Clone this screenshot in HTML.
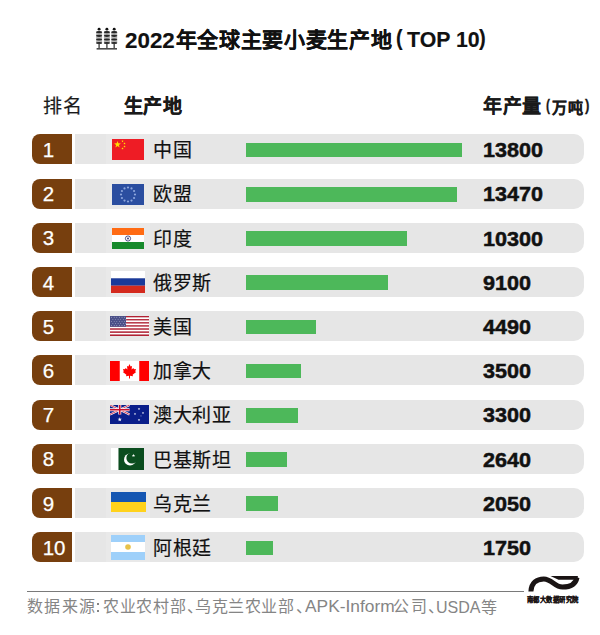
<!DOCTYPE html>
<html lang="zh-CN"><head><meta charset="utf-8">
<style>
html,body{margin:0;padding:0;background:#ffffff;}
body{width:600px;height:635px;position:relative;overflow:hidden;font-family:"Liberation Sans",sans-serif;color:#111;}
.abs{position:absolute;}
.t{position:absolute;line-height:1;white-space:nowrap;transform-origin:0 0;}
.row{position:absolute;left:32px;width:550px;height:30px;}
.rk{position:absolute;left:0;top:0;width:40px;height:30px;background:#773f0e;border-radius:8px 0 0 8px;}
.gb{position:absolute;left:42.5px;top:0;width:509px;height:30px;background:#e6e6e6;border-radius:0 10px 10px 0;}
.fl{position:absolute;}
.bar{position:absolute;left:214px;top:8.5px;height:14.5px;background:#4db85a;}
.line{position:absolute;left:26.5px;top:590.5px;width:497px;height:1.5px;background:#7a7a7a;}
</style></head><body>

<svg class="abs" style="left:95px;top:27px" width="24" height="24" viewBox="0 0 24 24"><rect x="1.10" y="4.4" width="6.0" height="12.4" rx="1.2" fill="#b4b4b4"/><circle cx="4.1" cy="2.15" r="1.45" fill="#111"/><ellipse cx="4.1" cy="5.2" rx="3.1" ry="1.1" fill="#262626"/><ellipse cx="4.1" cy="8.85" rx="3.1" ry="1.1" fill="#262626"/><ellipse cx="4.1" cy="12.5" rx="3.1" ry="1.1" fill="#262626"/><ellipse cx="4.1" cy="16.0" rx="3.1" ry="1.1" fill="#262626"/><rect x="3.35" y="16.8" width="1.5" height="4.4" fill="#555"/><rect x="8.90" y="4.4" width="6.0" height="12.4" rx="1.2" fill="#b4b4b4"/><circle cx="11.9" cy="2.15" r="1.45" fill="#111"/><ellipse cx="11.9" cy="5.2" rx="3.1" ry="1.1" fill="#262626"/><ellipse cx="11.9" cy="8.85" rx="3.1" ry="1.1" fill="#262626"/><ellipse cx="11.9" cy="12.5" rx="3.1" ry="1.1" fill="#262626"/><ellipse cx="11.9" cy="16.0" rx="3.1" ry="1.1" fill="#262626"/><rect x="11.15" y="16.8" width="1.5" height="4.4" fill="#555"/><rect x="16.20" y="4.4" width="6.0" height="12.4" rx="1.2" fill="#b4b4b4"/><circle cx="19.2" cy="2.15" r="1.45" fill="#111"/><ellipse cx="19.2" cy="5.2" rx="3.1" ry="1.1" fill="#262626"/><ellipse cx="19.2" cy="8.85" rx="3.1" ry="1.1" fill="#262626"/><ellipse cx="19.2" cy="12.5" rx="3.1" ry="1.1" fill="#262626"/><ellipse cx="19.2" cy="16.0" rx="3.1" ry="1.1" fill="#262626"/><rect x="18.45" y="16.8" width="1.5" height="4.4" fill="#555"/><rect x="1.6" y="21.0" width="20.4" height="1.6" fill="#4a4a4a"/></svg>
<div class="t" style="left:124.74px;top:29.90px;font-size:22.00px;font-weight:700;transform:scaleX(1.0174);-webkit-text-stroke:0.15px #111111;color:#111111;">2022</div>
<div class="t" style="left:175.80px;top:29.27px;font-size:21.00px;font-weight:700;letter-spacing:0.67px;-webkit-text-stroke:0.15px #111111;color:#111111;">年全球主要小麦生产地</div>
<div class="t" style="left:396.31px;top:27.15px;font-size:22.00px;font-weight:700;transform:scaleX(0.8954);-webkit-text-stroke:0.15px #111111;color:#111111;">(</div>
<div class="t" style="left:406.72px;top:28.90px;font-size:22.00px;font-weight:700;transform:scaleX(0.9688);-webkit-text-stroke:0.15px #111111;color:#111111;">TOP 10</div>
<div class="t" style="left:479.36px;top:27.15px;font-size:22.00px;font-weight:700;transform:scaleX(0.9211);-webkit-text-stroke:0.15px #111111;color:#111111;">)</div>
<div class="t" style="left:43.38px;top:96.82px;font-size:19.00px;letter-spacing:0.52px;-webkit-text-stroke:0.2px #1a1a1a;color:#1a1a1a;">排名</div>
<div class="t" style="left:124.06px;top:96.96px;font-size:19.00px;font-weight:700;letter-spacing:0.41px;-webkit-text-stroke:0.35px #1a1a1a;color:#1a1a1a;">生产地</div>
<div class="t" style="left:483.36px;top:97.09px;font-size:19.00px;font-weight:700;letter-spacing:0.42px;-webkit-text-stroke:0.1px #1a1a1a;color:#1a1a1a;">年产量</div>
<div class="t" style="left:546.22px;top:98.40px;font-size:16.00px;font-weight:700;transform:scaleX(0.7504);-webkit-text-stroke:0.3px #1a1a1a;color:#1a1a1a;">(</div>
<div class="t" style="left:551.94px;top:99.55px;font-size:15.00px;font-weight:700;letter-spacing:1.28px;-webkit-text-stroke:0.2px #1a1a1a;color:#1a1a1a;">万吨</div>
<div class="t" style="left:584.54px;top:98.40px;font-size:16.00px;font-weight:700;transform:scaleX(0.8307);-webkit-text-stroke:0.3px #1a1a1a;color:#1a1a1a;">)</div>
<div class="row" style="top:134.30px"><div class="rk"></div><div class="gb"></div><div class="abs" style="left:74px;top:0;width:44px;height:30px;background:#e9e9e9"></div><svg class="fl" style="left:80px;top:5px" width="32" height="21" viewBox="0 0 32 21"><rect width="32" height="21" fill="#ee1c25"/><polygon points="5.50,1.90 6.35,4.34 8.92,4.39 6.87,5.94 7.62,8.41 5.50,6.94 3.38,8.41 4.13,5.94 2.08,4.39 4.65,4.34" fill="#ffde00"/><polygon points="10.50,1.00 10.78,1.81 11.64,1.83 10.96,2.35 11.21,3.17 10.50,2.68 9.79,3.17 10.04,2.35 9.36,1.83 10.22,1.81" fill="#ffde00"/><polygon points="12.50,3.30 12.78,4.11 13.64,4.13 12.96,4.65 13.21,5.47 12.50,4.98 11.79,5.47 12.04,4.65 11.36,4.13 12.22,4.11" fill="#ffde00"/><polygon points="12.50,6.30 12.78,7.11 13.64,7.13 12.96,7.65 13.21,8.47 12.50,7.98 11.79,8.47 12.04,7.65 11.36,7.13 12.22,7.11" fill="#ffde00"/><polygon points="10.50,8.30 10.78,9.11 11.64,9.13 10.96,9.65 11.21,10.47 10.50,9.98 9.79,10.47 10.04,9.65 9.36,9.13 10.22,9.11" fill="#ffde00"/></svg><div class="bar" style="width:216.0px"></div></div>
<div class="t" style="left:42.72px;top:139.92px;font-size:20.50px;-webkit-text-stroke:0.25px #ffffff;color:#ffffff;">1</div>
<div class="t" style="left:152.90px;top:141.13px;font-size:19.00px;letter-spacing:0.65px;-webkit-text-stroke:0.2px #111111;color:#111111;">中国</div>
<div class="t" style="left:482.80px;top:140.10px;font-size:20.50px;font-weight:700;transform:scaleX(1.0526);-webkit-text-stroke:0.5px #111111;color:#111111;">13800</div>
<div class="row" style="top:178.50px"><div class="rk"></div><div class="gb"></div><div class="abs" style="left:74px;top:0;width:44px;height:30px;background:#e9e9e9"></div><svg class="fl" style="left:80px;top:5px" width="32" height="21" viewBox="0 0 32 21"><rect width="32" height="21" fill="#2b4ea0"/><circle cx="23.00" cy="10.50" r="1.1" fill="#8da6dc"/><circle cx="22.06" cy="14.00" r="1.1" fill="#8da6dc"/><circle cx="19.50" cy="16.56" r="1.1" fill="#8da6dc"/><circle cx="16.00" cy="17.50" r="1.1" fill="#8da6dc"/><circle cx="12.50" cy="16.56" r="1.1" fill="#8da6dc"/><circle cx="9.94" cy="14.00" r="1.1" fill="#8da6dc"/><circle cx="9.00" cy="10.50" r="1.1" fill="#8da6dc"/><circle cx="9.94" cy="7.00" r="1.1" fill="#8da6dc"/><circle cx="12.50" cy="4.44" r="1.1" fill="#8da6dc"/><circle cx="16.00" cy="3.50" r="1.1" fill="#8da6dc"/><circle cx="19.50" cy="4.44" r="1.1" fill="#8da6dc"/><circle cx="22.06" cy="7.00" r="1.1" fill="#8da6dc"/></svg><div class="bar" style="width:210.8px"></div></div>
<div class="t" style="left:42.72px;top:184.12px;font-size:20.50px;-webkit-text-stroke:0.25px #ffffff;color:#ffffff;">2</div>
<div class="t" style="left:152.90px;top:185.33px;font-size:19.00px;letter-spacing:0.65px;-webkit-text-stroke:0.2px #111111;color:#111111;">欧盟</div>
<div class="t" style="left:482.80px;top:184.30px;font-size:20.50px;font-weight:700;transform:scaleX(1.0526);-webkit-text-stroke:0.5px #111111;color:#111111;">13470</div>
<div class="row" style="top:222.70px"><div class="rk"></div><div class="gb"></div><div class="abs" style="left:74px;top:0;width:44px;height:30px;background:#e9e9e9"></div><svg class="fl" style="left:80px;top:5px" width="32" height="21" viewBox="0 0 32 21"><rect width="32" height="7" fill="#ff6b14"/><rect y="7" width="32" height="7" fill="#ffffff"/><rect y="14" width="32" height="7" fill="#178a2c"/><circle cx="16" cy="10.5" r="2.6" fill="none" stroke="#2a2a6a" stroke-width="0.8"/><circle cx="16" cy="10.5" r="0.9" fill="#2a2a6a"/></svg><div class="bar" style="width:161.2px"></div></div>
<div class="t" style="left:42.72px;top:228.32px;font-size:20.50px;-webkit-text-stroke:0.25px #ffffff;color:#ffffff;">3</div>
<div class="t" style="left:152.90px;top:229.53px;font-size:19.00px;letter-spacing:0.65px;-webkit-text-stroke:0.2px #111111;color:#111111;">印度</div>
<div class="t" style="left:482.80px;top:228.50px;font-size:20.50px;font-weight:700;transform:scaleX(1.0526);-webkit-text-stroke:0.5px #111111;color:#111111;">10300</div>
<div class="row" style="top:266.90px"><div class="rk"></div><div class="gb"></div><div class="abs" style="left:74px;top:0;width:44px;height:30px;background:#e9e9e9"></div><svg class="fl" style="left:78.5px;top:4.3px" width="34" height="22" viewBox="0 0 34 22"><rect width="34" height="7.3" fill="#ffffff"/><rect y="7.3" width="34" height="7.4" fill="#1a3a9a"/><rect y="14.7" width="34" height="7.3" fill="#d42a1e"/></svg><div class="bar" style="width:142.4px"></div></div>
<div class="t" style="left:42.72px;top:272.52px;font-size:20.50px;-webkit-text-stroke:0.25px #ffffff;color:#ffffff;">4</div>
<div class="t" style="left:152.90px;top:273.73px;font-size:19.00px;letter-spacing:0.65px;-webkit-text-stroke:0.2px #111111;color:#111111;">俄罗斯</div>
<div class="t" style="left:482.80px;top:272.70px;font-size:20.50px;font-weight:700;transform:scaleX(1.0526);-webkit-text-stroke:0.5px #111111;color:#111111;">9100</div>
<div class="row" style="top:311.10px"><div class="rk"></div><div class="gb"></div><div class="abs" style="left:74px;top:0;width:44px;height:30px;background:#e9e9e9"></div><svg class="fl" style="left:78px;top:5px" width="39" height="20" viewBox="0 0 39 20"><rect y="0.000" width="39" height="1.558" fill="#b22234"/><rect y="1.538" width="39" height="1.558" fill="#ffffff"/><rect y="3.077" width="39" height="1.558" fill="#b22234"/><rect y="4.615" width="39" height="1.558" fill="#ffffff"/><rect y="6.154" width="39" height="1.558" fill="#b22234"/><rect y="7.692" width="39" height="1.558" fill="#ffffff"/><rect y="9.231" width="39" height="1.558" fill="#b22234"/><rect y="10.769" width="39" height="1.558" fill="#ffffff"/><rect y="12.308" width="39" height="1.558" fill="#b22234"/><rect y="13.846" width="39" height="1.558" fill="#ffffff"/><rect y="15.385" width="39" height="1.558" fill="#b22234"/><rect y="16.923" width="39" height="1.558" fill="#ffffff"/><rect y="18.462" width="39" height="1.558" fill="#b22234"/><rect width="16" height="10.77" fill="#4b5088"/><circle cx="1.60" cy="1.30" r="0.45" fill="#c8cbe0"/><circle cx="4.20" cy="1.30" r="0.45" fill="#c8cbe0"/><circle cx="6.80" cy="1.30" r="0.45" fill="#c8cbe0"/><circle cx="9.40" cy="1.30" r="0.45" fill="#c8cbe0"/><circle cx="12.00" cy="1.30" r="0.45" fill="#c8cbe0"/><circle cx="14.60" cy="1.30" r="0.45" fill="#c8cbe0"/><circle cx="2.90" cy="3.35" r="0.45" fill="#c8cbe0"/><circle cx="5.50" cy="3.35" r="0.45" fill="#c8cbe0"/><circle cx="8.10" cy="3.35" r="0.45" fill="#c8cbe0"/><circle cx="10.70" cy="3.35" r="0.45" fill="#c8cbe0"/><circle cx="13.30" cy="3.35" r="0.45" fill="#c8cbe0"/><circle cx="15.90" cy="3.35" r="0.45" fill="#c8cbe0"/><circle cx="1.60" cy="5.40" r="0.45" fill="#c8cbe0"/><circle cx="4.20" cy="5.40" r="0.45" fill="#c8cbe0"/><circle cx="6.80" cy="5.40" r="0.45" fill="#c8cbe0"/><circle cx="9.40" cy="5.40" r="0.45" fill="#c8cbe0"/><circle cx="12.00" cy="5.40" r="0.45" fill="#c8cbe0"/><circle cx="14.60" cy="5.40" r="0.45" fill="#c8cbe0"/><circle cx="2.90" cy="7.45" r="0.45" fill="#c8cbe0"/><circle cx="5.50" cy="7.45" r="0.45" fill="#c8cbe0"/><circle cx="8.10" cy="7.45" r="0.45" fill="#c8cbe0"/><circle cx="10.70" cy="7.45" r="0.45" fill="#c8cbe0"/><circle cx="13.30" cy="7.45" r="0.45" fill="#c8cbe0"/><circle cx="15.90" cy="7.45" r="0.45" fill="#c8cbe0"/><circle cx="1.60" cy="9.50" r="0.45" fill="#c8cbe0"/><circle cx="4.20" cy="9.50" r="0.45" fill="#c8cbe0"/><circle cx="6.80" cy="9.50" r="0.45" fill="#c8cbe0"/><circle cx="9.40" cy="9.50" r="0.45" fill="#c8cbe0"/><circle cx="12.00" cy="9.50" r="0.45" fill="#c8cbe0"/><circle cx="14.60" cy="9.50" r="0.45" fill="#c8cbe0"/></svg><div class="bar" style="width:70.3px"></div></div>
<div class="t" style="left:42.72px;top:316.72px;font-size:20.50px;-webkit-text-stroke:0.25px #ffffff;color:#ffffff;">5</div>
<div class="t" style="left:152.90px;top:317.93px;font-size:19.00px;letter-spacing:0.65px;-webkit-text-stroke:0.2px #111111;color:#111111;">美国</div>
<div class="t" style="left:482.80px;top:316.90px;font-size:20.50px;font-weight:700;transform:scaleX(1.0526);-webkit-text-stroke:0.5px #111111;color:#111111;">4490</div>
<div class="row" style="top:355.30px"><div class="rk"></div><div class="gb"></div><div class="abs" style="left:74px;top:0;width:44px;height:30px;background:#e9e9e9"></div><svg class="fl" style="left:78px;top:5.4px" width="39" height="20" viewBox="0 0 39 20"><rect width="39" height="20" fill="#ffffff"/><rect width="9.75" height="20" fill="#ff0000"/><rect x="29.25" width="9.75" height="20" fill="#ff0000"/><path d="M19.5 3 L20.6 5.6 L22 5 L21.6 8.6 L23.4 7 L24 8.3 L26 8 L25.2 10.5 L26.2 11 L22.6 13.8 L23 15.2 L20 14.8 L20 17.5 L19 17.5 L19 14.8 L16 15.2 L16.4 13.8 L12.8 11 L13.8 10.5 L13 8 L15 8.3 L15.6 7 L17.4 8.6 L17 5 L18.4 5.6 Z" fill="#ff0000"/></svg><div class="bar" style="width:54.8px"></div></div>
<div class="t" style="left:42.72px;top:360.92px;font-size:20.50px;-webkit-text-stroke:0.25px #ffffff;color:#ffffff;">6</div>
<div class="t" style="left:152.90px;top:362.13px;font-size:19.00px;letter-spacing:0.65px;-webkit-text-stroke:0.2px #111111;color:#111111;">加拿大</div>
<div class="t" style="left:482.80px;top:361.10px;font-size:20.50px;font-weight:700;transform:scaleX(1.0526);-webkit-text-stroke:0.5px #111111;color:#111111;">3500</div>
<div class="row" style="top:399.50px"><div class="rk"></div><div class="gb"></div><div class="abs" style="left:74px;top:0;width:44px;height:30px;background:#e9e9e9"></div><svg class="fl" style="left:78px;top:5.3px" width="39" height="19" viewBox="0 0 39 19"><rect width="39" height="19" fill="#0a1e8a"/><g><path d="M0 0 L19.5 9.5 M19.5 0 L0 9.5" stroke="#ffffff" stroke-width="2"/><path d="M0 0 L19.5 9.5 M19.5 0 L0 9.5" stroke="#c8102e" stroke-width="0.8"/><path d="M9.75 0 V9.5 M0 4.75 H19.5" stroke="#ffffff" stroke-width="3"/><path d="M9.75 0 V9.5 M0 4.75 H19.5" stroke="#c8102e" stroke-width="1.6"/></g><polygon points="9.75,12.30 10.27,13.79 11.84,13.82 10.59,14.77 11.04,16.28 9.75,15.38 8.46,16.28 8.91,14.77 7.66,13.82 9.23,13.79" fill="#ffffff"/><polygon points="29.00,2.70 29.31,3.58 30.24,3.60 29.49,4.16 29.76,5.05 29.00,4.52 28.24,5.05 28.51,4.16 27.76,3.60 28.69,3.58" fill="#ffffff"/><polygon points="25.00,7.80 25.28,8.61 26.14,8.63 25.46,9.15 25.71,9.97 25.00,9.48 24.29,9.97 24.54,9.15 23.86,8.63 24.72,8.61" fill="#ffffff"/><polygon points="33.00,6.80 33.28,7.61 34.14,7.63 33.46,8.15 33.71,8.97 33.00,8.48 32.29,8.97 32.54,8.15 31.86,7.63 32.72,7.61" fill="#ffffff"/><polygon points="29.00,13.70 29.31,14.58 30.24,14.60 29.49,15.16 29.76,16.05 29.00,15.52 28.24,16.05 28.51,15.16 27.76,14.60 28.69,14.58" fill="#ffffff"/><polygon points="31.00,10.30 31.16,10.77 31.67,10.78 31.27,11.09 31.41,11.57 31.00,11.28 30.59,11.57 30.73,11.09 30.33,10.78 30.84,10.77" fill="#ffffff"/></svg><div class="bar" style="width:51.7px"></div></div>
<div class="t" style="left:42.72px;top:405.12px;font-size:20.50px;-webkit-text-stroke:0.25px #ffffff;color:#ffffff;">7</div>
<div class="t" style="left:152.90px;top:406.33px;font-size:19.00px;letter-spacing:0.65px;-webkit-text-stroke:0.2px #111111;color:#111111;">澳大利亚</div>
<div class="t" style="left:482.80px;top:405.30px;font-size:20.50px;font-weight:700;transform:scaleX(1.0526);-webkit-text-stroke:0.5px #111111;color:#111111;">3300</div>
<div class="row" style="top:443.70px"><div class="rk"></div><div class="gb"></div><div class="abs" style="left:74px;top:0;width:44px;height:30px;background:#e9e9e9"></div><svg class="fl" style="left:79px;top:4.3px" width="33" height="22" viewBox="0 0 33 22"><rect width="7.5" height="22" fill="#ffffff"/><rect x="7.5" width="25.5" height="22" fill="#0b4d1f"/><circle cx="19" cy="11.5" r="6" fill="#ffffff"/><circle cx="21" cy="10" r="5.6" fill="#0b4d1f"/><polygon points="22.50,5.80 22.92,7.02 24.21,7.04 23.18,7.82 23.56,9.06 22.50,8.32 21.44,9.06 21.82,7.82 20.79,7.04 22.08,7.02" fill="#ffffff"/></svg><div class="bar" style="width:41.3px"></div></div>
<div class="t" style="left:42.72px;top:449.32px;font-size:20.50px;-webkit-text-stroke:0.25px #ffffff;color:#ffffff;">8</div>
<div class="t" style="left:152.90px;top:450.53px;font-size:19.00px;letter-spacing:0.65px;-webkit-text-stroke:0.2px #111111;color:#111111;">巴基斯坦</div>
<div class="t" style="left:482.80px;top:449.50px;font-size:20.50px;font-weight:700;transform:scaleX(1.0526);-webkit-text-stroke:0.5px #111111;color:#111111;">2640</div>
<div class="row" style="top:487.90px"><div class="rk"></div><div class="gb"></div><div class="abs" style="left:74px;top:0;width:44px;height:30px;background:#e9e9e9"></div><svg class="fl" style="left:78.5px;top:4px" width="35.5" height="20" viewBox="0 0 35.5 20"><rect width="35.5" height="10" fill="#1556b2"/><rect y="10" width="35.5" height="10" fill="#ffd21c"/></svg><div class="bar" style="width:32.1px"></div></div>
<div class="t" style="left:42.72px;top:493.52px;font-size:20.50px;-webkit-text-stroke:0.25px #ffffff;color:#ffffff;">9</div>
<div class="t" style="left:152.90px;top:494.73px;font-size:19.00px;letter-spacing:0.65px;-webkit-text-stroke:0.2px #111111;color:#111111;">乌克兰</div>
<div class="t" style="left:482.80px;top:493.70px;font-size:20.50px;font-weight:700;transform:scaleX(1.0526);-webkit-text-stroke:0.5px #111111;color:#111111;">2050</div>
<div class="row" style="top:532.10px"><div class="rk"></div><div class="gb"></div><div class="abs" style="left:74px;top:0;width:44px;height:30px;background:#e9e9e9"></div><svg class="fl" style="left:79px;top:3px" width="34" height="25" viewBox="0 0 34 25"><rect width="34" height="7" fill="#9ed0fa"/><rect y="7" width="34" height="10" fill="#ffffff"/><rect y="17" width="34" height="8" fill="#9ed0fa"/><circle cx="17" cy="12" r="2.8" fill="#e8c24a"/></svg><div class="bar" style="width:27.4px"></div></div>
<div class="t" style="left:42.72px;top:537.72px;font-size:20.50px;-webkit-text-stroke:0.25px #ffffff;color:#ffffff;">10</div>
<div class="t" style="left:152.90px;top:538.93px;font-size:19.00px;letter-spacing:0.65px;-webkit-text-stroke:0.2px #111111;color:#111111;">阿根廷</div>
<div class="t" style="left:482.80px;top:537.90px;font-size:20.50px;font-weight:700;transform:scaleX(1.0526);-webkit-text-stroke:0.5px #111111;color:#111111;">1750</div>
<div class="line"></div>
<div class="t" style="left:27.38px;top:599.31px;font-size:16.00px;letter-spacing:1.08px;color:#858585;">数据来源</div>
<div class="t" style="left:102.90px;top:599.31px;font-size:16.00px;letter-spacing:0.80px;color:#858585;">农业农村部</div>
<div class="t" style="left:195.02px;top:599.31px;font-size:16.00px;letter-spacing:0.62px;color:#858585;">乌克兰农业部</div>
<div class="t" style="left:305.28px;top:598.33px;font-size:16.50px;transform:scaleX(1.0512);color:#858585;">APK-Inform</div>
<div class="t" style="left:393.32px;top:599.00px;font-size:16.00px;letter-spacing:1.85px;color:#858585;">公司</div>
<div class="t" style="left:435.80px;top:598.90px;font-size:16.50px;transform:scaleX(0.9713);color:#858585;">USDA</div>
<div class="t" style="left:481.44px;top:599.55px;font-size:16.00px;color:#858585;">等</div>
<div class="t" style="left:187.30px;top:599.11px;font-size:16.00px;color:#858585;">、</div>
<div class="t" style="left:296.30px;top:599.11px;font-size:16.00px;color:#858585;">、</div>
<div class="t" style="left:428.30px;top:599.11px;font-size:16.00px;color:#858585;">、</div>
<div class="abs" style="left:97.3px;top:602.5px;width:2.1px;height:2.1px;background:#858585"></div>
<div class="abs" style="left:97.3px;top:610px;width:2.1px;height:2.1px;background:#858585"></div>
<svg class="abs" style="left:520px;top:570px" width="65" height="35" viewBox="0 0 65 35">
<path d="M10.9 21.5 C11.2 12.8, 17 8.9, 23.8 8.9 C31.8 8.9, 34.5 17, 42.5 17 C51 17, 55.8 13.6, 57 7.4" fill="none" stroke="#1a1414" stroke-width="5"/>
<path d="M30.5 6 L57.9 6 L57.5 9.8 L38.5 9.8 Z" fill="#1a1414"/>
<text x="0" y="32.4" font-size="7.4" font-weight="700" fill="#1a1414" stroke="#1a1414" stroke-width="0.2" transform="translate(7,0) scale(0.86,1)">南都大数据研究院</text>
</svg>
</body></html>
